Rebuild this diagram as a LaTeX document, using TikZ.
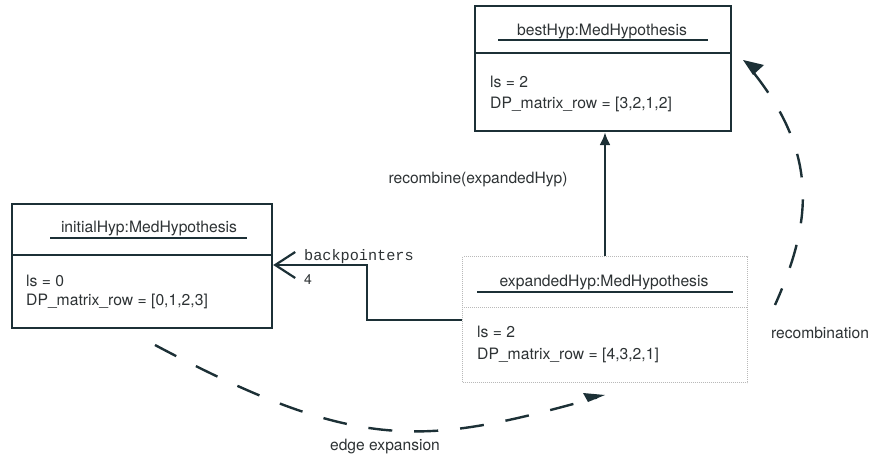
\documentclass[tikz,border=0pt]{standalone}
\usepackage{fontspec}
\setmainfont{TeX Gyre Heros}
\setmonofont{Liberation Mono}
\usetikzlibrary{arrows.meta,calc}
\definecolor{ink}{RGB}{28,48,54}
\definecolor{txt}{RGB}{45,50,52}
\tikzset{
  objbox/.style={draw=ink, line width=2.2pt, rectangle, anchor=north west, inner sep=0pt},
  litebox/.style={draw=gray!55, line width=1pt, densely dotted, rectangle, anchor=north west, inner sep=0pt},
  ttl/.style={text=txt, font=\fontsize{15.7}{18}\selectfont, inner sep=0pt},
  attr/.style={text=txt, font=\fontsize{15.7}{18}\selectfont, inner sep=0pt, anchor=west, align=left},
  lbl/.style={text=txt, font=\fontsize{15.6}{18}\selectfont, inner sep=0pt},
  ulin/.style={draw=ink, line width=1.6pt},
  flow/.style={draw=ink, line width=2.4pt, dash pattern=on 24pt off 22pt},
}
\begin{document}
\begin{tikzpicture}[x=1pt,y=-1pt]
\useasboundingbox (0,0) rectangle (871,463);
% bestHyp
\node[objbox, minimum width=256pt, minimum height=125pt] (best) at (474,5) {};
\draw[ink, line width=2.2pt] (474,53) -- (730,53);
\node[ttl] (bestT) at (602,31) {bestHyp:MedHypothesis};
\draw[ulin] (498,40) -- (708,40);
\node[attr] (bestA) at (490,82) {ls = 2};
\node[attr] (bestB) at (490,104) {DP\_matrix\_row = [3,2,1,2]};
% initialHyp
\node[objbox, minimum width=260pt, minimum height=124pt] (init) at (11,203) {};
\draw[ink, line width=2.2pt] (11,255) -- (271,255);
\node[ttl] (initT) at (149,228) {initialHyp:MedHypothesis};
\draw[ulin] (50,238) -- (247,238);
\node[attr] (initA) at (26,281) {ls = 0};
\node[attr] (initB) at (26,301) {DP\_matrix\_row = [0,1,2,3]};
% expandedHyp
\node[litebox, minimum width=285pt, minimum height=126pt] (exp) at (462,256) {};
\draw[gray!55, line width=1pt, densely dotted] (462,307) -- (747,307);
\node[ttl] (expT) at (604,282) {expandedHyp:MedHypothesis};
\draw[ulin] (477,292) -- (733,292);
\node[attr] (expA) at (477,332) {ls = 2};
\node[attr] (expB) at (477,355) {DP\_matrix\_row = [4,3,2,1]};
% recombine arrow
\draw[ink, line width=2.2pt, -{Latex[length=13pt,width=11pt]}] (exp.north) -- (exp.north |- best.south);
\node[lbl] (recL) at (478,180) {recombine(expandedHyp)};
% backpointers
\coordinate (bp1) at (367,320);
\coordinate (bp2) at (367,265);
\draw[ink, line width=2.2pt, -{Straight Barb[length=20pt,width=26pt,line width=2.2pt]}] (exp.west |- bp1) -- (bp1) -- (bp2) -- (init.east |- bp2);
\node[text=txt, font=\ttfamily\fontsize{15.2}{17}\selectfont, inner sep=0pt, anchor=west] (bpL) at (304,257) {backpointers};
\node[text=txt, font=\fontsize{14}{16}\selectfont, inner sep=0pt] (bpN) at (308,280) {4};
% edge expansion
\coordinate (ee0) at (155,345);
\coordinate (ee1) at (605,395);
\draw[flow] (ee0) .. controls (362,455) and (425,445) .. ($(ee1)+(-8,2.5)$);
\fill[ink] (ee1) -- ++(-22,-2) -- ++(5,9) -- cycle;
\node[lbl] (eeL) at (385,447) {edge expansion};
% recombination
\coordinate (rc0) at (775,305);
\coordinate (rc1) at (743,60);
\draw[flow, dash phase=6pt] (rc0) .. controls (813,220) and (819,152) .. ($(rc1)+(6,7)$);
\fill[ink] (rc1) -- ++(21,5) -- ++(-11,10) -- cycle;
\node[lbl] (rcL) at (820,333) {recombination};
\end{tikzpicture}
\end{document}
